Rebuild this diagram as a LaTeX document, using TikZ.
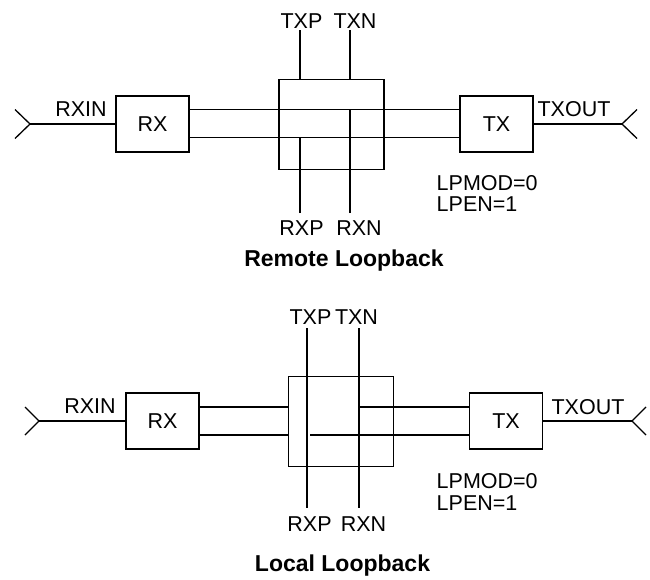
\documentclass[tikz,border=0pt]{standalone}
\usepackage{fontspec}
\setmainfont{Liberation Sans}
\usepackage{tikz}
\newcommand{\lblfont}{\fontsize{21.5}{25}\selectfont}
\newcommand{\ttlfont}{\fontsize{23}{27}\selectfont\bfseries}
\tikzset{wire/.style={black,line width=1.3pt}}
\tikzset{block/.style={rectangle,draw,line width=1.3pt,minimum width=73pt,minimum height=56pt,inner sep=0pt,font=\lblfont}}
\tikzset{mux/.style={rectangle,draw,line width=1.3pt,minimum width=105pt,minimum height=90pt,inner sep=0pt}}
\tikzset{pinlabel/.style={inner sep=0pt,font=\lblfont}}
\tikzset{figtitle/.style={inner sep=0pt,font=\ttlfont,anchor=base}}
\begin{document}
\begin{tikzpicture}[x=1pt,y=-1pt]
  \useasboundingbox (0,0) rectangle (650,579);

  % Remote loopback
  \node[block] (rx1) at (152.5,124) {RX};
  \node[mux] (sw1) at (331.5,124.5) {};
  \node[block] (tx1) at (496.5,124) {TX};
  \coordinate (in1) at (30,124);
  \coordinate (out1) at (622,124);
  \coordinate (hi1) at ([yshift=14.5pt]rx1.east);
  \coordinate (lo1) at ([yshift=-13.5pt]rx1.east);
  \coordinate (tp1) at (300,30);
  \coordinate (tn1) at (350,30);
  \coordinate (rp1) at (300,213);
  \coordinate (rn1) at (350,213);

  % Wires
  \draw[wire] ([shift={(-15,-14.5)}]in1) -- (in1) -- ([shift={(-15,14.5)}]in1);
  \draw[wire] (in1) -- (rx1.west);
  \draw[wire] (hi1) -- (hi1 -| tx1.west);
  \draw[wire] (lo1) -- (lo1 -| tx1.west);
  \draw[wire] (tp1) -- (tp1 |- sw1.north);
  \draw[wire] (tn1) -- (tn1 |- sw1.north);
  \draw[wire] (rp1) -- (rp1 |- lo1);
  \draw[wire] (rn1) -- (rn1 |- hi1);
  \draw[wire] (tx1.east) -- (out1);
  \draw[wire] ([shift={(15,-14.5)}]out1) -- (out1) -- ([shift={(15,14.5)}]out1);

  % Labels
  \node[pinlabel] (rxin1) at (81,109.2) {RXIN};
  \node[pinlabel] (txout1) at (574,109.2) {TXOUT};
  \node[pinlabel] (txp1) at (301.5,20.8) {TXP};
  \node[pinlabel] (txn1) at (355,20.8) {TXN};
  \node[pinlabel] (rxp1) at (301.5,227.8) {RXP};
  \node[pinlabel] (rxn1) at (359,227.8) {RXN};
  \node[pinlabel,anchor=base west] (mod1) at (436.5,190) {LPMOD=0};
  \node[pinlabel,anchor=base west] (en1) at ([yshift=-21.7pt]mod1.base west) {LPEN=1};
  \node[figtitle] (ttl1) at (344,266.7) {Remote Loopback};

  % Local loopback
  \node[block] (rx2) at (162.5,421) {RX};
  \node[mux] (sw2) at (341,421.5) {};
  \node[block] (tx2) at (506,421) {TX};
  \coordinate (in2) at (39,421);
  \coordinate (out2) at (632,421);
  \coordinate (hi2) at ([yshift=14pt]rx2.east);
  \coordinate (lo2) at ([yshift=-14pt]rx2.east);
  \coordinate (tp2) at (307,328);
  \coordinate (tn2) at (359,328);
  \coordinate (rp2) at (307,508);
  \coordinate (rn2) at (359,508);
  \coordinate[xshift=3pt] (lb2) at (tp2 |- lo2);

  % Wires
  \draw[wire] ([shift={(-14,-14)}]in2) -- (in2) -- ([shift={(-14,14)}]in2);
  \draw[wire] (in2) -- (rx2.west);
  \draw[wire] (hi2) -- (hi2 -| sw2.west);
  \draw[wire] (lo2) -- (lo2 -| sw2.west);
  \draw[wire] (tp2) -- (rp2);
  \draw[wire] (tn2) -- (rn2);
  \draw[wire] (hi2 -| tn2) -- (hi2 -| tx2.west);
  \draw[wire] (lb2) -- (lb2 -| tx2.west);
  \draw[wire] (tx2.east) -- (out2);
  \draw[wire] ([shift={(14,-14)}]out2) -- (out2) -- ([shift={(14,14)}]out2);

  % Labels
  \node[pinlabel] (rxin2) at (90,406) {RXIN};
  \node[pinlabel] (txout2) at (588,407.5) {TXOUT};
  \node[pinlabel] (txp2) at (310.5,317.5) {TXP};
  \node[pinlabel] (txn2) at (356.5,317.5) {TXN};
  \node[pinlabel] (rxp2) at (309.5,524) {RXP};
  \node[pinlabel] (rxn2) at (363.5,524) {RXN};
  \node[pinlabel,anchor=base west] (mod2) at (436.5,488.3) {LPMOD=0};
  \node[pinlabel,anchor=base west] (en2) at ([yshift=-21.7pt]mod2.base west) {LPEN=1};
  \node[figtitle] (ttl2) at (342.5,571) {Local Loopback};
\end{tikzpicture}
\end{document}
